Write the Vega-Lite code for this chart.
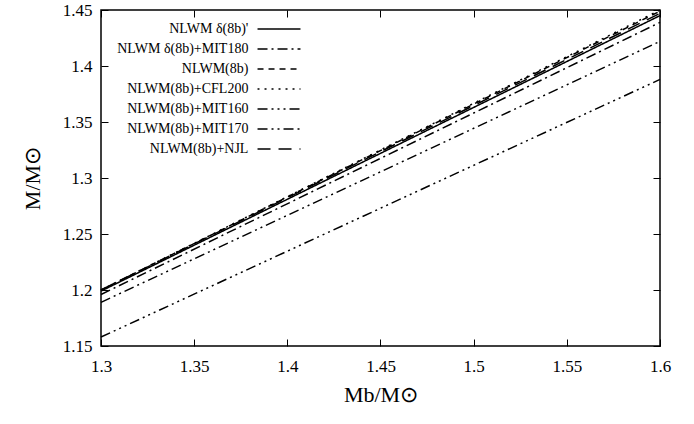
{
  "$schema": "https://vega.github.io/schema/vega-lite/v6.json",
  "width": 559,
  "height": 336,
  "autosize": "none",
  "padding": {"left": 101, "top": 10, "right": 34, "bottom": 78},
  "background": "white",
  "config": {
    "view": {"stroke": "black", "strokeWidth": 1.5},
    "font": "Liberation Serif",
    "axis": {
      "grid": false,
      "domain": false,
      "offset": -7,
      "tickColor": "black",
      "tickSize": 7,
      "tickWidth": 1,
      "labelColor": "black",
      "labelFont": "Liberation Serif",
      "labelFontSize": 17,
      "titleFont": "Liberation Serif",
      "titleFontSize": 22,
      "titleFontWeight": "normal",
      "titleColor": "black"
    }
  },
  "data": {
    "values": [
      {"model": "NLWM δ(8b)'", "mb": 1.3, "m": 1.199},
      {"model": "NLWM δ(8b)'", "mb": 1.6, "m": 1.445},
      {"model": "NLWM δ(8b)+MIT180", "mb": 1.3, "m": 1.196},
      {"model": "NLWM δ(8b)+MIT180", "mb": 1.6, "m": 1.439},
      {"model": "NLWM(8b)", "mb": 1.3, "m": 1.2},
      {"model": "NLWM(8b)", "mb": 1.6, "m": 1.449},
      {"model": "NLWM(8b)+CFL200", "mb": 1.3, "m": 1.2},
      {"model": "NLWM(8b)+CFL200", "mb": 1.6, "m": 1.45},
      {"model": "NLWM(8b)+MIT160", "mb": 1.3, "m": 1.158},
      {"model": "NLWM(8b)+MIT160", "mb": 1.6, "m": 1.388},
      {"model": "NLWM(8b)+MIT170", "mb": 1.3, "m": 1.189},
      {"model": "NLWM(8b)+MIT170", "mb": 1.6, "m": 1.422},
      {"model": "NLWM(8b)+NJL", "mb": 1.3, "m": 1.2},
      {"model": "NLWM(8b)+NJL", "mb": 1.6, "m": 1.447}
    ]
  },
  "layer": [
    {
      "mark": {"type": "line", "stroke": "black", "strokeWidth": 1.5},
      "encoding": {
        "x": {
          "field": "mb", "type": "quantitative",
          "scale": {"domain": [1.3, 1.6], "nice": false, "zero": false},
          "axis": {"orient": "bottom", "title": "Mb/M⊙", "values": [1.3, 1.35, 1.4, 1.45, 1.5, 1.55, 1.6], "format": "~g", "labelPadding": 12, "labelFlush": false, "titlePadding": 10}
        },
        "y": {
          "field": "m", "type": "quantitative",
          "scale": {"domain": [1.15, 1.45], "nice": false, "zero": false},
          "axis": {"orient": "left", "title": "M/M⊙", "values": [1.15, 1.2, 1.25, 1.3, 1.35, 1.4, 1.45], "format": "~g", "labelPadding": 9, "titlePadding": 18, "labelFlush": false}
        },
        "strokeDash": {
          "field": "model", "type": "nominal",
          "scale": {
            "domain": ["NLWM δ(8b)'", "NLWM δ(8b)+MIT180", "NLWM(8b)", "NLWM(8b)+CFL200", "NLWM(8b)+MIT160", "NLWM(8b)+MIT170", "NLWM(8b)+NJL"],
            "range": [[1, 0], [10, 4, 2, 4], [6, 5], [2, 5], [10, 4, 2, 4, 2, 4, 2, 4], [10, 4, 2, 4, 2, 4], [13, 8]]
          },
          "legend": {
            "title": null,
            "orient": "none",
            "legendX": 170,
            "legendY": 11,
            "symbolType": "M-3,0H3",
            "symbolSize": 205,
            "symbolStrokeWidth": 1.5,
            "symbolStrokeColor": "black",
            "labelFont": "Liberation Serif",
            "labelFontSize": 14,
            "labelColor": "black",
            "labelAlign": "right",
            "labelOffset": -38.6,
            "labelLimit": 400,
            "rowPadding": 5
          }
        }
      }
    },
    {
      "mark": {"type": "point", "opacity": 0},
      "encoding": {
        "x": {"field": "mb", "type": "quantitative", "axis": {"orient": "top", "labels": false, "title": null, "values": [1.3, 1.35, 1.4, 1.45, 1.5, 1.55, 1.6]}},
        "y": {"field": "m", "type": "quantitative", "axis": {"orient": "right", "labels": false, "title": null, "values": [1.15, 1.2, 1.25, 1.3, 1.35, 1.4, 1.45]}}
      }
    }
  ],
  "resolve": {"axis": {"x": "independent", "y": "independent"}}
}
